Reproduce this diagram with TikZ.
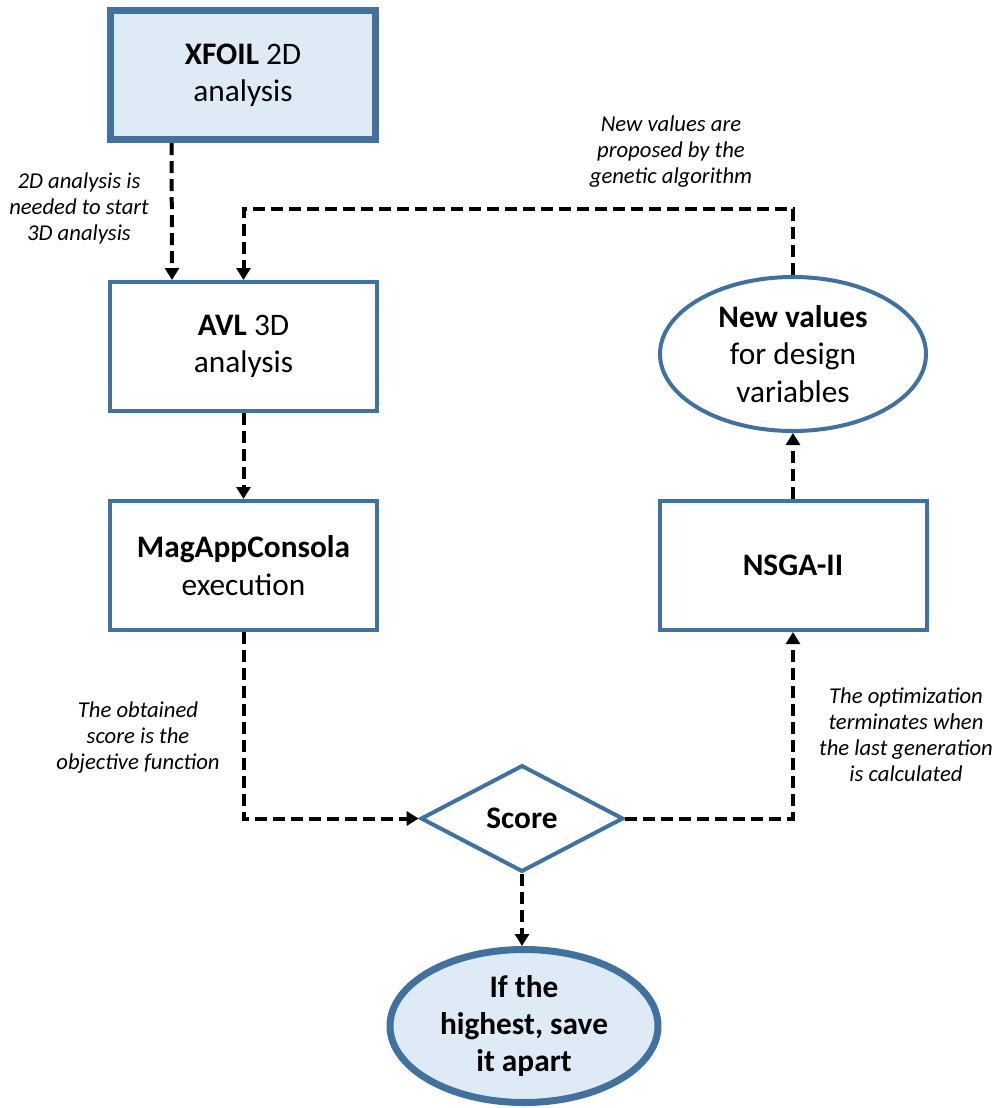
\documentclass[tikz,border=0pt]{standalone}
\usepackage{fontspec}
\setmainfont{Carlito}
\usetikzlibrary{arrows.meta,positioning,shapes.geometric}
\definecolor{boxblue}{RGB}{65,113,156}
\definecolor{paleblue}{RGB}{222,235,247}
\definecolor{ink}{RGB}{0,0,0}

\begin{document}
\begin{tikzpicture}[x=0.75pt,y=-0.75pt]
        \tikzstyle{stepbox}=[rectangle,draw=boxblue,line width=3pt,fill=white,minimum width=200.25pt,minimum height=96.75pt,align=center,font=\fontsize{23.5}{28}\selectfont]
        \tikzstyle{startbox}=[stepbox,line width=5.25pt,fill=paleblue,minimum width=198.75pt,minimum height=96.75pt]
        \tikzstyle{valuesoval}=[ellipse,draw=boxblue,line width=3pt,fill=white,minimum width=199.5pt,minimum height=115.5pt,inner sep=0pt,align=center,font=\fontsize{23.5}{28}\selectfont]
        \tikzstyle{endoval}=[valuesoval,line width=5.25pt,fill=paleblue,minimum width=201pt,minimum height=114.75pt]
        \tikzstyle{scorediamond}=[diamond,aspect=1.85,draw=boxblue,line width=3pt,fill=white,minimum width=152pt,minimum height=80pt,inner sep=0pt,font=\fontsize{23.5}{28}\selectfont\bfseries]
        \tikzstyle{note}=[align=center,font=\fontsize{17}{19.5}\selectfont\itshape]
        \tikzstyle{flowline}=[-{Triangle[length=9pt,width=10.5pt]},ink,line width=3pt,dash pattern=on 9pt off 4.5pt]
        \useasboundingbox (0,0) rectangle (996,1108);
        % boxes
        \node[startbox] (xfoil) at (243,75) {\textbf{XFOIL} 2D\\analysis};
        \node[stepbox] (avl) at (243.5,346.5) {\textbf{AVL} 3D\\analysis};
        \node[stepbox] (magapp) at (243.5,565.5) {\textbf{MagAppConsola}\\execution};
        \node[stepbox] (nsga) at (793,565.5) {\textbf{NSGA-II}};
        \node[valuesoval] (newval) at (793,354) {\textbf{New values}\\for design\\variables};
        \node[scorediamond] (score) at (522,818.5) {Score};
        \node[endoval] (keep) at (524,1026) {\textbf{If the}\\\textbf{highest, save}\\\textbf{it apart}};
        % notes
        \node[note] (note2d) at (79,208) {2D analysis is\\needed to start\\3D analysis};
        \node[note] (notenew) at (671,152) {New values are\\proposed by the\\genetic algorithm};
        \node[note] (notescore) at (138,738) {The obtained\\score is the\\objective function};
        \node[note] (noteend) at (906,735) {The optimization\\terminates when\\the last generation\\is calculated};
        % arrows
        \draw[flowline] ([xshift=-53.6pt]xfoil.south) -- ([xshift=-53.6pt]avl.north);
        \draw[flowline] (newval.north) -- ++(0,-66) -| (avl.north);
        \draw[flowline] (avl.south) -- (magapp.north);
        \draw[flowline] (magapp.south) |- (score.west);
        \draw[flowline] (score.east) -| (nsga.south);
        \draw[flowline] (nsga.north) -- (newval.south);
        \draw[flowline] (score.south) -- (score.south |- keep.north);
\end{tikzpicture}
\end{document}
